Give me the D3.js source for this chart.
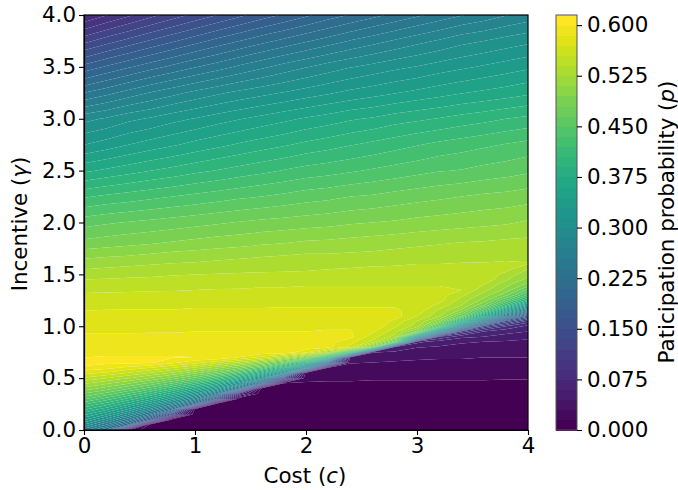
<!DOCTYPE html>
<html><head><meta charset="utf-8">
<script src="https://cdn.jsdelivr.net/npm/d3@7"></script>
<style>
html,body{margin:0;padding:0;background:#fff}
svg{display:block}
text{font-family:"DejaVu Sans";fill:#000}
</style></head><body><svg id="c" width="678" height="490"></svg>
<script>
const costCols=[0,0.2,0.4,0.6,0.8,1,1.2,1.4,1.6,1.8,2,2.2,2.4,2.6,2.8,3,3.2,3.4,3.6,3.8,4];
const gammaRows=[0,0.05,0.1,0.15,0.2,0.25,0.3,0.35,0.4,0.45,0.5,0.55,0.6,0.65,0.7,0.75,0.8,0.85,0.9,0.95,1,1.05,1.1,1.15,1.2,1.25,1.3,1.35,1.4,1.45,1.5,1.55,1.6,1.7,1.8,2,2.25,2.5,2.75,3,3.25,3.5,3.75,4];
// participation probability x 1000; one row per gammaRows entry, one column per costCols entry
const participation=[
[262,208,32,0,0,0,0,0,0,0,0,0,0,0,0,0,0,0,0,0,0],
[298,254,192,0,0,0,0,0,0,0,0,0,0,0,0,0,0,0,0,0,0],
[332,293,243,165,0,0,0,0,0,0,0,0,0,0,0,0,0,0,0,0,0],
[364,330,287,230,120,0,0,0,0,0,0,0,0,0,0,0,0,0,0,0,0],
[394,365,328,280,214,10,0,0,0,0,0,0,0,0,0,0,0,0,0,0,0],
[423,397,365,325,272,195,0,0,0,0,0,0,0,0,0,0,0,0,0,0,0],
[452,428,400,366,321,261,155,0,0,0,0,0,0,0,0,0,0,0,0,0,0],
[479,460,434,404,367,317,247,70,2,2,2,2,2,2,2,2,2,2,2,2,2],
[505,488,466,442,408,367,312,226,8,6,6,5,5,5,5,5,5,5,5,5,5],
[528,514,497,476,450,414,370,305,200,15,14,13,13,12,12,12,12,12,12,12,12],
[552,540,526,508,487,460,422,370,295,135,18,18,18,17,17,17,17,17,17,16,16],
[574,568,554,539,522,500,474,431,373,280,23,24,22,21,21,21,20,20,20,19,19],
[598,590,581,570,555,538,515,487,444,376,258,27,26,25,25,24,24,24,23,23,23],
[604,604,604,603,589,576,559,536,505,460,381,210,31,30,29,28,28,28,27,27,26],
[600,601,601,601,601,600,599,584,564,533,486,390,40,36,33,32,31,31,30,30,30],
[597,597,597,597,597,597,597,597,597,597,575,527,407,46,43,40,38,37,36,35,34],
[594,594,594,594,594,594,594,594,594,594,594,590,565,478,60,46,44,41,40,39,38],
[591,591,591,591,591,591,591,591,591,591,591,591,576,551,470,65,52,47,45,43,41],
[587,587,587,588,588,588,588,588,588,588,588,589,589,562,534,310,90,65,60,55,50],
[584,584,584,584,584,585,585,585,585,585,585,586,586,573,546,490,280,115,75,65,60],
[581,581,581,582,582,582,582,582,582,582,583,583,583,583,558,532,440,260,130,90,70],
[578,578,579,579,579,579,580,580,580,580,580,581,581,581,567,540,500,390,255,150,100],
[574,575,575,576,576,576,577,577,577,577,577,577,577,577,577,555,530,465,357,250,160],
[570,571,571,571,571,572,572,572,572,572,572,572,572,572,572,565,536,505,430,330,245],
[566,566,567,567,567,568,568,568,568,569,569,569,569,569,569,569,550,525,480,405,315],
[561,562,562,563,563,563,564,564,564,565,565,565,565,565,565,565,561,534,505,450,385],
[557,557,558,558,559,559,559,560,560,561,561,561,561,561,561,561,561,544,518,485,430],
[552,553,553,554,554,555,556,556,557,557,558,558,558,558,558,558,558,555,531,505,462],
[546,547,548,549,550,550,551,552,553,553,554,554,554,554,554,554,554,554,540,515,490],
[540,541,542,543,544,545,546,547,547,548,548,549,550,550,551,551,551,551,551,528,505],
[532,534,536,537,539,540,541,542,543,543,544,545,546,546,547,547,548,548,548,536,513],
[525,527,529,531,532,533,534,535,536,537,538,540,541,542,542,543,544,544,545,545,525],
[518,520,522,524,526,527,529,531,533,534,535,536,537,538,539,540,540,541,541,542,541],
[502,505,507,510,513,515,517,519,521,523,525,525,526,527,529,531,532,533,534,535,535],
[485,488,491,494,497,500,503,505,508,510,513,514,516,518,520,522,524,526,527,529,530],
[459,463,466,469,472,475,478,481,484,486,488,490,493,495,497,500,502,504,506,508,512],
[418,423,427,431,435,439,443,447,450,454,458,461,465,467,471,474,477,480,483,485,488],
[372,378,384,390,395,401,406,411,416,421,426,429,433,437,441,445,449,451,455,458,462],
[330,337,345,352,358,365,371,377,383,388,394,399,404,409,414,419,424,428,432,436,440],
[295,302,311,317,325,331,338,344,350,356,362,367,373,377,383,387,391,396,400,405,409],
[240,250,261,271,280,289,297,304,310,316,322,328,334,339,344,349,354,359,363,367,372],
[185,197,208,219,229,239,248,258,267,276,284,292,299,305,311,316,322,327,332,337,342],
[130,143,155,167,178,189,200,210,220,229,238,247,256,264,272,280,287,295,300,306,311],
[75,89,102,115,127,139,150,161,172,182,192,202,211,220,229,237,246,254,261,269,276]
];
const xTicks=[0,1,2,3,4];
const yTicks=[0,0.5,1,1.5,2,2.5,3,3.5,4];
const barTicks=[0,0.075,0.15,0.225,0.3,0.375,0.45,0.525,0.6];
const levelStep=15, levelCount=42; // contour levels 0, 0.015 ... 0.615 (in thousandths: 0..615)
const levels=d3.range(levelCount).map(i=>i*levelStep);

const svg=d3.select("#c");
const x=d3.scaleLinear().domain([0,4]).range([84,528]);
const y=d3.scaleLinear().domain([0,4]).range([430,15]);
const colIdx=d3.scaleLinear().domain(d3.range(costCols.length)).range(costCols).clamp(true);
const rowIdx=d3.scaleLinear().domain(d3.range(gammaRows.length)).range(gammaRows).clamp(true);
const bandColor=i=>d3.interpolateViridis(i/(levelCount-2));

const flat=participation.flat();
const contours=d3.contours().size([costCols.length,gammaRows.length]).thresholds(levels).smooth(true)(flat);
const proj=d3.geoTransform({point(px,py){this.stream.point(x(colIdx(px-0.5)),y(rowIdx(py-0.5)));}});
const path=d3.geoPath(proj);

svg.append("clipPath").attr("id","pl").append("rect")
  .attr("x",84).attr("y",15).attr("width",444).attr("height",415);
const plot=svg.append("g").attr("clip-path","url(#pl)");
plot.selectAll("path").data(d3.range(levelCount-1)).join("path")
  .attr("fill-rule","evenodd")
  .attr("fill",bandColor)
  .attr("d",i=>(path(contours[i])||"")+(path(contours[i+1])||""));

function styleAxis(g){
  g.selectAll("text").style("font-family",'"DejaVu Sans"').style("font-size","21.4px").attr("fill","#000");
  g.selectAll("line").attr("stroke","#000").attr("stroke-width",1.1);
  g.select(".domain").attr("stroke","#000").attr("stroke-width",1.2);
}
svg.append("g").attr("transform","translate(0,430)")
  .call(d3.axisBottom(x).tickValues(xTicks).tickFormat(d3.format("d")).tickSize(5).tickSizeOuter(0).tickPadding(3))
  .call(styleAxis);
svg.append("g").attr("transform","translate(84,0)")
  .call(d3.axisLeft(y).tickValues(yTicks).tickFormat(d3.format(".1f")).tickSize(5).tickSizeOuter(0).tickPadding(3))
  .call(styleAxis);
svg.append("rect").attr("x",84).attr("y",15).attr("width",444).attr("height",415)
  .attr("fill","none").attr("stroke","#000").attr("stroke-width",1.2);

// colorbar
const bar=d3.scaleLinear().domain([0,615]).range([430,15]);
svg.append("g").attr("shape-rendering","crispEdges").selectAll("rect").data(d3.range(levelCount-1)).join("rect")
  .attr("x",556).attr("width",21)
  .attr("y",i=>bar(levels[i+1])).attr("height",i=>bar(levels[i])-bar(levels[i+1])+0.5)
  .attr("fill",bandColor);
svg.append("rect").attr("x",556).attr("y",15).attr("width",21).attr("height",415)
  .attr("fill","none").attr("stroke","#555").attr("stroke-width",1);
svg.append("g").attr("transform","translate(577,0)")
  .call(d3.axisRight(d3.scaleLinear().domain([0,0.615]).range([430,15])).tickValues(barTicks)
    .tickFormat(d3.format(".3f")).tickSize(5).tickSizeOuter(0).tickPadding(5))
  .call(styleAxis).call(g=>g.select(".domain").remove());

const fs="21.4px";
const xl=svg.append("text").attr("x",305).attr("y",483).attr("text-anchor","middle").style("font-size",fs);
xl.append("tspan").text("Cost (");xl.append("tspan").attr("font-style","italic").text("c");xl.append("tspan").text(")");
const yl=svg.append("text").attr("transform","translate(27,224) rotate(-90)").attr("text-anchor","middle").style("font-size",fs);
yl.append("tspan").text("Incentive (");yl.append("tspan").attr("font-style","italic").text("γ");yl.append("tspan").text(")");
const cl=svg.append("text").attr("transform","translate(674,222) rotate(-90)").attr("text-anchor","middle").style("font-size",fs);
cl.append("tspan").text("Paticipation probability (");cl.append("tspan").attr("font-style","italic").text("p");cl.append("tspan").text(")");
</script></body></html>
